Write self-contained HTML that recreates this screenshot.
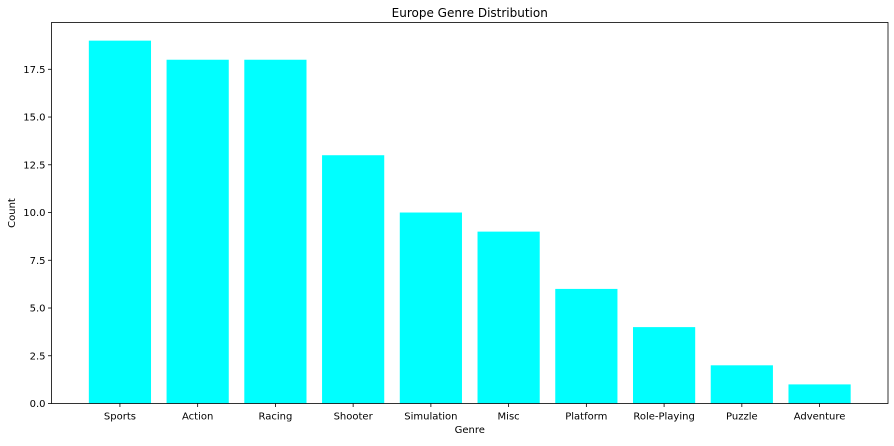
<!DOCTYPE html>
<html><head><meta charset="utf-8"><style>
body{margin:0;background:#fff;font-family:"Liberation Sans","DejaVu Sans",sans-serif}
svg text{font-family:"DejaVu Sans","Liberation Sans",sans-serif;fill:#000}
</style></head><body>
<svg id="chart" width="894" height="441"></svg>
<script>
const categories=["Sports","Action","Racing","Shooter","Simulation","Misc","Platform","Role-Playing","Puzzle","Adventure"];
const counts=[19,18,18,13,10,9,6,4,2,1];
const yTicks=[0,2.5,5,7.5,10,12.5,15,17.5];
const yTickLabels=["0.0","2.5","5.0","7.5","10.0","12.5","15.0","17.5"];
const NS="http://www.w3.org/2000/svg";
const svg=document.getElementById('chart');
const L=51.5,R=888,T=22.5,B=403.5;
const ymax=Math.max(...counts)*1.05;
const n=categories.length;
const xmin=-0.4-0.049*(n-1+0.8), xmax=n-1+0.4+0.049*(n-1+0.8);
function x(v){return L+(v-xmin)/(xmax-xmin)*(R-L);}
function y(v){return B-v/ymax*(B-T);}
function mk(tag,attrs,name,text){const e=document.createElementNS(NS,tag);for(const k in attrs)e.setAttribute(k,attrs[k]);


if(text!==undefined)e.textContent=text;svg.appendChild(e);return e;}
counts.forEach((c,i)=>{
 mk('rect',{x:x(i-0.4),y:y(c),width:x(i+0.4)-x(i-0.4),height:B-y(c),fill:'#00ffff'},'bar-'+categories[i].toLowerCase());
 mk('line',{x1:x(i),x2:x(i),y1:B,y2:B+3.5,stroke:'#000','stroke-width':0.8},'x-tick');
 mk('text',{x:x(i),y:B+16,'text-anchor':'middle','font-size':10},'x-tick-label',categories[i]);
});
yTicks.forEach((t,i)=>{
 mk('line',{x1:L-3.5,x2:L,y1:y(t),y2:y(t),stroke:'#000','stroke-width':0.8},'y-tick');
 mk('text',{x:L-6,y:y(t)+3.5,'text-anchor':'end','font-size':10},'y-tick-label',yTickLabels[i]);
});
mk('rect',{x:L,y:T,width:R-L,height:B-T,fill:'none',stroke:'#000','stroke-width':0.8},'plot-frame');
mk('text',{x:(L+R)/2,y:17,'text-anchor':'middle','font-size':12},'chart-title','Europe Genre Distribution');
mk('text',{x:(L+R)/2,y:433,'text-anchor':'middle','font-size':10},'x-axis-title','Genre');
mk('text',{x:15,y:(T+B)/2,'text-anchor':'middle','font-size':10,transform:'rotate(-90 15 '+(T+B)/2+')'},'y-axis-title','Count');
</script>
</body></html>
